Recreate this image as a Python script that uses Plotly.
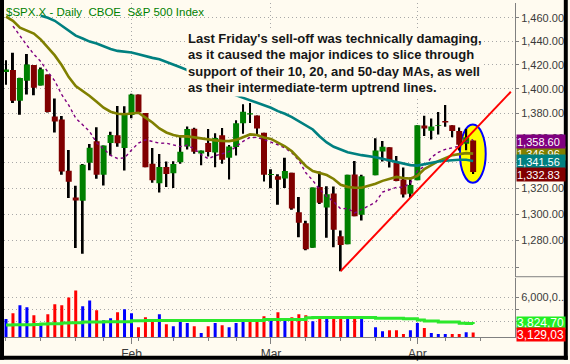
import numpy as np
import plotly.graph_objects as go

# ---------------- data ----------------
dates = ["2008-01-07", "2008-01-08", "2008-01-09", "2008-01-10", "2008-01-11", "2008-01-14",
         "2008-01-15", "2008-01-16", "2008-01-17", "2008-01-18", "2008-01-22", "2008-01-23",
         "2008-01-24", "2008-01-25", "2008-01-28", "2008-01-29", "2008-01-30", "2008-01-31",
         "2008-02-01", "2008-02-04", "2008-02-05", "2008-02-06", "2008-02-07", "2008-02-08",
         "2008-02-11", "2008-02-12", "2008-02-13", "2008-02-14", "2008-02-15", "2008-02-19",
         "2008-02-20", "2008-02-21", "2008-02-22", "2008-02-25", "2008-02-26", "2008-02-27",
         "2008-02-28", "2008-02-29",
         "2008-03-03", "2008-03-04", "2008-03-05", "2008-03-06", "2008-03-07", "2008-03-10",
         "2008-03-11", "2008-03-12", "2008-03-13", "2008-03-14", "2008-03-17", "2008-03-18",
         "2008-03-19", "2008-03-20", "2008-03-24", "2008-03-25", "2008-03-26", "2008-03-27",
         "2008-03-28", "2008-03-31",
         "2008-04-01", "2008-04-02", "2008-04-03", "2008-04-04", "2008-04-07", "2008-04-08",
         "2008-04-09", "2008-04-10", "2008-04-11"]

opens = [1414.07, 1415.71, 1390.25, 1406.78, 1419.91, 1402.91, 1411.88, 1377.41, 1374.79, 1333.90,
         1312.94, 1310.41, 1340.13, 1357.32, 1330.70, 1355.94, 1362.22, 1351.98,
         1378.60, 1395.38, 1380.28, 1339.48, 1324.01, 1336.88, 1331.92, 1340.55, 1353.12, 1367.33,
         1347.52, 1355.86, 1348.39, 1362.21, 1344.22, 1352.75, 1371.76, 1378.95, 1378.16, 1364.07,
         1330.45, 1329.58, 1327.69, 1332.20, 1301.53, 1293.16, 1274.40, 1321.13, 1305.26, 1316.05,
         1283.21, 1277.16, 1330.97, 1299.67, 1330.29, 1349.07, 1352.45, 1340.34, 1327.02, 1315.92,
         1326.41, 1369.96, 1365.69, 1369.85, 1373.69, 1370.16, 1365.50, 1355.37, 1357.98]
highs = [1423.87, 1430.28, 1409.19, 1429.09, 1419.91, 1417.89, 1411.88, 1391.99, 1377.72, 1350.28,
         1322.09, 1339.09, 1355.15, 1368.56, 1353.97, 1364.93, 1385.86, 1385.62,
         1396.02, 1395.38, 1380.28, 1351.96, 1347.16, 1341.22, 1341.40, 1362.10, 1369.23, 1368.16,
         1350.00, 1367.28, 1363.71, 1367.94, 1354.30, 1374.36, 1387.34, 1388.34, 1378.16, 1364.07,
         1335.13, 1331.03, 1344.19, 1332.20, 1313.24, 1295.01, 1320.65, 1333.26, 1321.68, 1321.47,
         1287.50, 1330.74, 1341.51, 1330.67, 1359.68, 1357.47, 1352.45, 1345.62, 1336.41, 1328.52,
         1370.18, 1377.95, 1375.66, 1380.91, 1386.74, 1370.16, 1368.39, 1367.24, 1357.98]
lows = [1403.45, 1388.30, 1378.70, 1395.31, 1394.83, 1402.91, 1380.60, 1364.27, 1330.67, 1312.51,
        1274.29, 1270.05, 1334.31, 1327.50, 1322.26, 1346.03, 1352.95, 1334.08,
        1375.93, 1379.69, 1336.64, 1324.34, 1316.75, 1321.06, 1320.32, 1339.36, 1350.78, 1347.31,
        1338.13, 1345.05, 1336.55, 1339.34, 1327.04, 1346.03, 1363.29, 1372.00, 1363.16, 1325.42,
        1320.04, 1307.39, 1320.22, 1303.42, 1282.43, 1272.66, 1274.40, 1307.86, 1282.11, 1274.86,
        1256.98, 1277.16, 1298.42, 1295.22, 1330.29, 1341.21, 1336.41, 1325.66, 1312.95, 1312.81,
        1326.41, 1361.55, 1358.68, 1362.83, 1369.02, 1360.62, 1349.97, 1350.11, 1331.21]
closes = [1416.18, 1390.19, 1409.13, 1420.33, 1401.02, 1416.25, 1380.95, 1373.20, 1333.25, 1325.19,
          1310.50, 1338.60, 1352.07, 1330.61, 1353.96, 1362.30, 1355.81, 1378.55,
          1395.42, 1380.82, 1336.64, 1326.45, 1336.91, 1331.29, 1339.13, 1348.86, 1367.21, 1348.86,
          1349.99, 1348.78, 1360.03, 1342.53, 1353.11, 1371.80, 1381.29, 1380.02, 1367.68, 1330.63,
          1331.34, 1326.75, 1333.70, 1304.34, 1293.37, 1273.37, 1320.65, 1308.77, 1315.48, 1288.14,
          1276.60, 1330.74, 1298.42, 1329.51, 1349.88, 1352.99, 1341.13, 1325.76, 1315.22, 1322.70,
          1370.18, 1367.53, 1369.31, 1370.40, 1372.54, 1365.54, 1354.49, 1360.55, 1332.83]
prev_close = 1411.63

volumes = [4240000, 4710000, 5360000, 5200000, 4540000, 3730000, 4630000, 5440000, 5360000, 6000000,
           6580000, 5280000, 5760000, 4950000, 4140000, 4300000, 4790000, 5030000,
           4710000, 3570000, 4380000, 4060000, 4630000, 3810000, 3650000, 4060000, 3900000, 3650000,
           3080000, 3650000, 3900000, 3730000, 3570000, 3900000, 4140000, 3980000, 3980000, 4460000,
           4140000, 4790000, 4300000, 4380000, 4630000, 4540000, 4060000, 4460000, 4300000, 4300000,
           4300000, 4300000, 4300000, 4300000, 3570000, 3240000, 3320000, 3320000, 3000000, 3320000,
           3900000, 3490000, 3080000, 3000000, 3000000, 3000000, 3000000, 3160000, 3129031]

ma10 = [None, 1452.96, 1444.22, 1436.49, 1428.97, 1422.74, 1414.00, 1406.60, 1395.21, 1386.57,
        1376.00, 1370.84, 1365.14, 1356.16, 1351.46, 1346.06, 1343.55, 1344.08,
        1350.30, 1355.86, 1358.48, 1357.26, 1355.75, 1355.82, 1354.33, 1352.99, 1354.13, 1351.16,
        1346.62, 1343.41, 1345.75, 1347.36, 1348.98, 1353.03, 1357.25, 1360.36, 1360.41, 1358.59,
        1356.72, 1354.52, 1351.89, 1348.07, 1342.09, 1332.25, 1326.19, 1319.06, 1313.84, 1309.59,
        1304.12, 1304.52, 1300.99, 1303.51, 1309.16, 1317.12, 1319.17, 1320.87, 1320.84, 1324.30,
        1333.65, 1337.33, 1344.42, 1348.51, 1350.78, 1352.03, 1353.37, 1356.85, 1358.61]
ma20 = [1461.2, 1457.5, 1451.6, 1449.0, 1446.5, 1441.4, 1434.7, 1428.0, 1419.7, 1409.8,
        1402.4, 1398.3, 1394.2, 1389.3, 1384.5, 1381.2, 1379.6, 1379.2,
        1379.6, 1380.4, 1376.4, 1372.4, 1367.6, 1364.4, 1362.4, 1361.2, 1361.2, 1360.4,
        1359.6, 1358.4, 1358.0, 1357.6, 1357.4, 1358.4, 1360.8, 1362.8, 1362.4, 1360.4,
        1359.2, 1356.4, 1353.3, 1349.3, 1343.8, 1337.6, 1333.7, 1332.1, 1330.5, 1327.4,
        1322.8, 1321.2, 1320.5, 1320.5, 1323.6, 1325.9, 1327.4, 1329.0, 1328.2, 1327.7,
        1329.8, 1335.2, 1338.3, 1341.5, 1343.8, 1346.2, 1347.0, 1347.8, 1347.4]
ma50 = [None, None, None, None, None, 1461.8, 1460.1, 1457.5, 1453.3, 1449.0,
        1444.8, 1442.3, 1439.7, 1438.1, 1435.6, 1433.4, 1431.8, 1430.9,
        1430.5, 1428.9, 1427.2, 1425.9, 1424.7, 1422.6, 1420.5, 1418.0, 1415.6, 1410.6,
        1406.5, 1403.2, 1400.7, 1398.3, 1396.7, 1394.6, 1392.6, 1390.6, 1388.9, 1386.9,
        1384.5, 1381.7, 1379.6, 1376.8, 1373.6, 1370.0, 1366.8, 1361.2, 1356.4, 1352.9,
        1350.5, 1348.5, 1347.4, 1346.2, 1344.6, 1343.4, 1342.3, 1340.7, 1339.5, 1338.3,
        1337.9, 1339.1, 1340.3, 1341.2, 1341.8, 1342.3, 1342.5, 1342.5, 1341.56]
vol_ma = [3750000, 3760000, 3760000, 3770000, 3780000, 3830000, 3840000, 3850000, 3910000, 3920000,
          3930000, 3990000, 4000000, 4000000, 4010000, 4010000, 4020000, 4020000,
          4100000, 4100000, 4110000, 4110000, 4110000, 4110000, 4110000, 4110000, 4110000, 4110000,
          4110000, 4110000, 4110000, 4110000, 4110000, 4110000, 4110000, 4120000, 4120000, 4190000,
          4190000, 4190000, 4190000, 4200000, 4200000, 4340000, 4350000, 4350000, 4350000, 4350000,
          4350000, 4350000, 4350000, 4350000, 4300000, 4300000, 4300000, 4300000, 4250000, 4250000,
          4160000, 4080000, 4080000, 4000000, 4000000, 4000000, 3880000, 3860000, 3824701]

month_dates = ["2008-02-01", "2008-03-03", "2008-04-01"]
month_labels = ["Feb", "Mar", "Apr"]
week_dates = ["2008-01-07", "2008-01-14", "2008-01-21", "2008-01-28", "2008-02-04", "2008-02-11",
              "2008-02-18", "2008-02-25", "2008-03-10", "2008-03-17", "2008-03-24", "2008-03-31",
              "2008-04-07", "2008-04-14"]
holidays = ["2008-01-21", "2008-02-18"]   # chart skips these; Good Friday keeps an empty slot
trend_anchor_dates = ["2008-03-17", "2008-03-31"]  # uptrend line drawn through these lows
price_ticks = [1260, 1280, 1300, 1320, 1340, 1360, 1380, 1400, 1420, 1440, 1460]
vol_ticks = [4000000, 5000000, 6000000]
vol_ticktext = ["4,000,0...", "", "6,000,0..."]
label_10 = 1358.60
label_20 = 1346.96
label_50 = 1341.56
label_last = 1332.83
label_volma = 3824701
label_vol = 3129031

# ---------------- styling ----------------
CREAM = "#FFFBF0"
GRID = "#A8A8A8"
AXC = "#808080"
TXT = "#3A3A3A"
FONT = "Liberation Sans, Arial, sans-serif"
GREEN = "#008000"
MAROON = "#800000"
W, H = 570, 364
ML, MR, MT, MB = 4, 53, 3, 23
PW, PH = W - ML - MR, H - MT - MB
PX_PER_DECADE = 3941.0          # vertical scale of the (log) price panel
REF_PRICE, REF_PX = 1440.0, 41.7


def px_x(px):
    return (px - ML) / PW


def px_y(py):
    return (H - MB - py) / PH


hol = np.array(holidays, dtype="datetime64[D]")
d = np.array(dates, dtype="datetime64[D]")
start = d[0]
slots = np.busday_count(start, d, holidays=hol)
month_slots = np.busday_count(start, np.array(month_dates, dtype="datetime64[D]"), holidays=hol)
week_slots = np.busday_count(start, np.array(week_dates, dtype="datetime64[D]"), holidays=hol)

o = np.array(opens)
h = np.array(highs)
l = np.array(lows)
c = np.array(closes)
prevs = np.concatenate([[prev_close], c[:-1]])
vol_colors = ["#0000FF" if cc >= pp else "#FF0000" for cc, pp in zip(c, prevs)]

# uptrend line through two lows, extended to the right
ta = np.busday_count(start, np.array(trend_anchor_dates, dtype="datetime64[D]"), holidays=hol)
i0 = dates.index(trend_anchor_dates[0])
i1 = dates.index(trend_anchor_dates[1])
lg0, lg1 = np.log10(lows[i0]), np.log10(lows[i1])
slope = (lg1 - lg0) / (ta[1] - ta[0])
trend_end_slot = 72.4
trend_x = [ta[0], trend_end_slot]
trend_y = [lows[i0], 10 ** (lg0 + slope * (trend_end_slot - ta[0]))]

fig = go.Figure()

# wicks (bar layer, drawn under the bodies)
fig.add_trace(go.Bar(x=slots, y=h - l, base=l, width=0.28,
                     marker=dict(color="black", line=dict(width=0)),
                     xaxis="x", yaxis="y", hoverinfo="skip", showlegend=False))
# bodies
fig.add_trace(go.Candlestick(x=slots, open=o, high=h, low=l, close=c, whiskerwidth=0,
                             increasing=dict(fillcolor=GREEN, line=dict(color=GREEN, width=0)),
                             decreasing=dict(fillcolor=MAROON, line=dict(color=MAROON, width=0)),
                             xaxis="x", yaxis="y", hoverinfo="skip", showlegend=False))
# moving averages
fig.add_trace(go.Scatter(x=slots, y=ma10, mode="lines",
                         line=dict(color="#800080", width=1.4, dash="3px,3px"),
                         xaxis="x", yaxis="y", hoverinfo="skip", showlegend=False))
fig.add_trace(go.Scatter(x=slots, y=ma20, mode="lines",
                         line=dict(color="#808000", width=2.6),
                         xaxis="x", yaxis="y", hoverinfo="skip", showlegend=False))
fig.add_trace(go.Scatter(x=slots, y=ma50, mode="lines",
                         line=dict(color="#008080", width=2.6),
                         xaxis="x", yaxis="y", hoverinfo="skip", showlegend=False))
# trend line
fig.add_trace(go.Scatter(x=trend_x, y=trend_y, mode="lines",
                         line=dict(color="#FF0000", width=2),
                         xaxis="x", yaxis="y", hoverinfo="skip", showlegend=False))
# volume
fig.add_trace(go.Bar(x=slots, y=volumes, width=0.43,
                     marker=dict(color=vol_colors, line=dict(width=0)),
                     xaxis="x", yaxis="y2", hoverinfo="skip", showlegend=False))
fig.add_trace(go.Scatter(x=slots, y=vol_ma, mode="lines", line_shape="hv",
                         line=dict(color="#2BE82B", width=3),
                         xaxis="x", yaxis="y2", hoverinfo="skip", showlegend=False))

grid_common = dict(showgrid=True, gridcolor=GRID, griddash="1px,3px", gridwidth=1, zeroline=False)

top_log = np.log10(REF_PRICE) + (REF_PX - MT) / PX_PER_DECADE
bot_log = np.log10(REF_PRICE) - (280 - REF_PX) / PX_PER_DECADE

fig.update_layout(
    width=W, height=H, margin=dict(l=ML, r=MR, t=MT, b=MB, pad=0),
    paper_bgcolor=CREAM, plot_bgcolor=CREAM, showlegend=False,
    barmode="overlay", boxgap=0.14, boxgroupgap=0,
    font=dict(family=FONT),
    xaxis=dict(domain=[0, 1], anchor="y2", range=[-0.2857, 73.0],
               rangeslider=dict(visible=False),
               tickmode="array", tickvals=month_slots, ticktext=month_labels,
               ticks="outside", ticklen=6, tickcolor=AXC, tickwidth=1,
               tickfont=dict(family=FONT, size=12, color=TXT),
               showline=True, linecolor=AXC, linewidth=1,
               minor=dict(tickmode="array", tickvals=week_slots, ticks="outside", ticklen=3,
                          tickcolor=AXC, showgrid=False),
               **grid_common),
    yaxis=dict(domain=[px_y(280), 1], anchor="x", side="right", type="log",
               range=[bot_log, top_log],
               tickmode="array", tickvals=price_ticks,
               ticktext=["" if v == 1260 else f"{v:,.2f}" for v in price_ticks],
               ticks="outside", ticklen=3, tickcolor=AXC,
               tickfont=dict(family=FONT, size=11, color=TXT),
               showline=True, linecolor=AXC, linewidth=1,
               **grid_common),
    yaxis2=dict(domain=[0, px_y(281)], anchor="x", side="right",
                range=[2761000, 7619000],
                tickmode="array", tickvals=vol_ticks, ticktext=vol_ticktext,
                ticks="outside", ticklen=3, tickcolor=AXC,
                tickfont=dict(family=FONT, size=11, color=TXT),
                showline=True, linecolor=AXC, linewidth=1,
                **grid_common),
)

shapes = []
# highlight ellipse around last two candles
shapes.append(dict(type="circle", xref="x", yref="y", x0=65.1, x1=68.8, y0=1324.4, y1=1370.8,
                   line=dict(color="#0000FF", width=2), fillcolor="#FFFF00", layer="between"))
# divider between price and volume scales
shapes.append(dict(type="line", xref="paper", yref="paper", x0=1, x1=px_x(566),
                   y0=px_y(280), y1=px_y(280), line=dict(color=AXC, width=1), layer="above"))
# black frame
shapes.append(dict(type="rect", xref="paper", yref="paper", x0=px_x(0), x1=px_x(ML),
                   y0=px_y(H), y1=px_y(0), fillcolor="black", line=dict(width=0), layer="above"))
shapes.append(dict(type="rect", xref="paper", yref="paper", x0=px_x(566), x1=px_x(W),
                   y0=px_y(H), y1=px_y(0), fillcolor="black", line=dict(width=0), layer="above"))
shapes.append(dict(type="rect", xref="paper", yref="paper", x0=px_x(0), x1=px_x(W),
                   y0=px_y(H), y1=px_y(360), fillcolor="black", line=dict(width=0), layer="above"))
fig.update_layout(shapes=shapes)

ann = []
ann.append(dict(text="$SPX.X - Daily \u00a0CBOE \u00a0S&P 500 Index", xref="paper", yref="paper",
                x=px_x(4), y=px_y(12), xanchor="left", yanchor="middle", showarrow=False,
                font=dict(family=FONT, size=11.5, color="#008000")))
comment = ["Last Friday's sell-off was technically damaging,",
           "as it caused the major indices to slice through",
           "support of their 10, 20, and 50-day MAs, as well",
           "as their intermediate-term uptrend lines."]
for txt, yc in zip(comment, [39, 55.5, 72, 88.3]):
    ann.append(dict(text="<b>" + txt + "</b>", xref="paper", yref="paper",
                    x=px_x(187), y=px_y(yc), xanchor="left", yanchor="middle", showarrow=False,
                    bgcolor=CREAM, borderpad=1,
                    font=dict(family=FONT, size=13, color="#161616")))


def value_label(text, yval, yref, bg, yshift=0, size=11, height=13):
    return dict(text=text, xref="paper", yref=yref, x=px_x(518), y=yval, xanchor="left",
                yanchor="middle", showarrow=False, bgcolor=bg, borderpad=0, width=48,
                height=height, align="left", yshift=yshift,
                font=dict(family=FONT, size=size, color="white"))


ann.append(value_label(f"{label_20:,.2f}", np.log10(1347.8), "y", "#808000"))
ann.append(value_label(f"{label_10:,.2f}", np.log10(label_10), "y", "#800080", yshift=-2))
ann.append(value_label(f"{label_50:,.2f}", np.log10(label_50), "y", "#008080"))
ann.append(value_label(f"{label_last:,.2f}", np.log10(label_last), "y", "#800000", yshift=-2))
ann.append(value_label(f"{label_volma:,}"[:-1], label_volma, "y2", "#22EE22", yshift=1, size=12, height=12))
ann.append(value_label(f"{label_vol:,}"[:-1], label_vol, "y2", "#FF0000", yshift=-1.5, size=12, height=13))
fig.update_layout(annotations=ann)

# page body has a default 8px margin; remove it so the chart sits at the window's origin
fig.write_html("out.html", config={"displayModeBar": False},
               post_script="document.body.style.margin='0px';")
